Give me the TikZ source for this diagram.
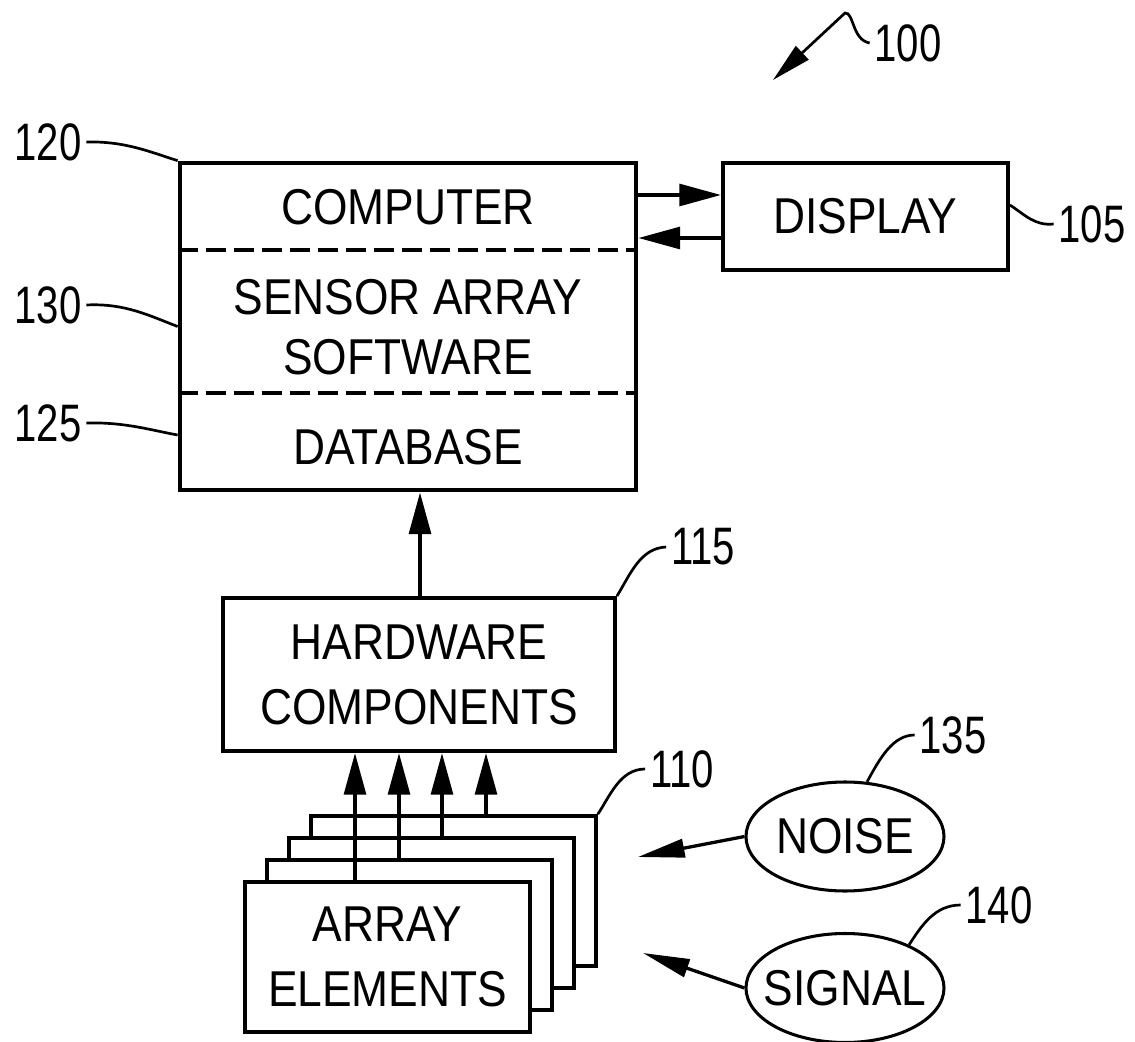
\documentclass[tikz,border=0pt]{standalone}
\usepackage{fontspec}
\setmainfont{Liberation Sans}[FakeStretch=0.88]
\newfontfamily\numfont{Liberation Sans}[FakeStretch=0.76]
\usetikzlibrary{arrows.meta,shapes.geometric}

\begin{document}
\begin{tikzpicture}[x=0.03cm,y=-0.03cm,
	box/.style={draw,line width=3.3pt,inner sep=0pt,align=center,font=\fontsize{43}{55.5}\selectfont},
	txt/.style={inner sep=0pt,align=center,font=\fontsize{43}{55.5}\selectfont},
	num/.style={inner sep=4pt,font=\numfont\fontsize{45}{54}\selectfont},
	oval/.style={draw,ellipse,line width=2.6pt,inner sep=0pt,minimum width=5.94cm,minimum height=3.27cm,font=\fontsize{43}{55.5}\selectfont},
	lead/.style={line width=2.3pt},
	sep/.style={line width=2.9pt,dash pattern=on 0.6cm off 0.24cm},
	arr/.style={line width=3.3pt,-{Triangle[length=1.25cm,width=0.65cm]}},
	thin arr/.style={line width=2.8pt,-{Triangle[length=1.4cm,width=0.55cm]}}]
	\useasboundingbox (0,0) rectangle (1135,1042);

	% computer with its three parts
	\node[box,line width=4pt,minimum width=13.68cm,minimum height=9.81cm] (comp) at (408,326.5) {};
	\draw[sep] (comp.west |- 0,250) -- (comp.east |- 0,250);
	\draw[sep] (comp.west |- 0,393) -- (comp.east |- 0,393);
	\node[txt] (cpu) at (408,207) {COMPUTER};
	\node[txt,font=\fontsize{43}{51}\selectfont] (sas) at (408,327) {SENSOR ARRAY\\SOFTWARE};
	\node[txt] (db) at (408,447) {DATABASE};

	\node[box,minimum width=8.55cm,minimum height=3.21cm] (disp) at (865.5,216.5) {DISPLAY};
	\draw[arr] (comp.east |- 0,195) -- (disp.west |- 0,195);
	\draw[arr] (disp.west |- 0,238) -- (comp.east |- 0,238);

	\node[box,minimum width=11.76cm,minimum height=4.59cm] (hw) at (419,674.5) {HARDWARE\\COMPONENTS};
	\draw[arr] (hw.north -| 420,0) -- (comp.south -| 420,0);

	% stack of array elements, back to front
	\foreach \i in {3,2,1}
		\node[box,line width=3.1pt,fill=white,minimum width=8.55cm,minimum height=4.5cm] (arr\i) at (387.5+22*\i,957-22*\i) {};
	\node[box,line width=3.1pt,fill=white,minimum width=8.55cm,minimum height=4.5cm] (arr0) at (387.5,957) {ARRAY\\ELEMENTS};
	\foreach \i/\x in {0/355,1/399,2/442,3/486}
		\draw[arr] (arr\i.north -| \x,0) -- (hw.south -| \x,0);

	\node[oval] (noise) at (845,836.5) {\makebox[0pt]{NOISE}};
	\node[oval] (signal) at (845,988) {\makebox[0pt]{SIGNAL}};
	\coordinate (ntip) at (638,857);
	\coordinate (stip) at (643,953);
	\draw[thin arr] (noise.west) -- (ntip);
	\draw[thin arr] (signal.west) -- (stip);

	% reference numerals
	\node[num] (n100) at (908,43) {100};
	\node[num] (n105) at (1092,224) {105};
	\node[num] (n110) at (682,769) {110};
	\node[num] (n115) at (703,547) {115};
	\node[num] (n120) at (48,142) {120};
	\node[num] (n125) at (48,423) {125};
	\node[num] (n130) at (48,305) {130};
	\node[num] (n135) at (953,735) {135};
	\node[num] (n140) at (999,905) {140};

	\coordinate (tip100) at (773,80);
	\draw[lead,-{Triangle[length=1.2cm,width=0.55cm]}] (n100.west) .. controls (852,40) and (854,12) .. (845,13) -- (tip100);
	\draw[lead] (n120.east) .. controls (125,141) and (150,152) .. (comp.north west);
	\draw[lead] (n130.east) .. controls (125,303) and (150,316) .. (comp.west);
	\draw[lead] (n125.east) .. controls (125,422) and (150,430) .. (comp.west |- 0,435);
	\draw[lead] (disp.east |- 0,205) .. controls (1025,215) and (1035,226) .. (n105.west);
	\draw[lead] (hw.north east) .. controls (630,575) and (640,548) .. (n115.west);
	\draw[lead] (arr3.north east) .. controls (610,796) and (620,769) .. (n110.west);
	\draw[lead] (noise.68) .. controls (880,758) and (893,735) .. (n135.west);
	\draw[lead] (signal.34) .. controls (922,925) and (935,905) .. (n140.west);
\end{tikzpicture}
\end{document}
